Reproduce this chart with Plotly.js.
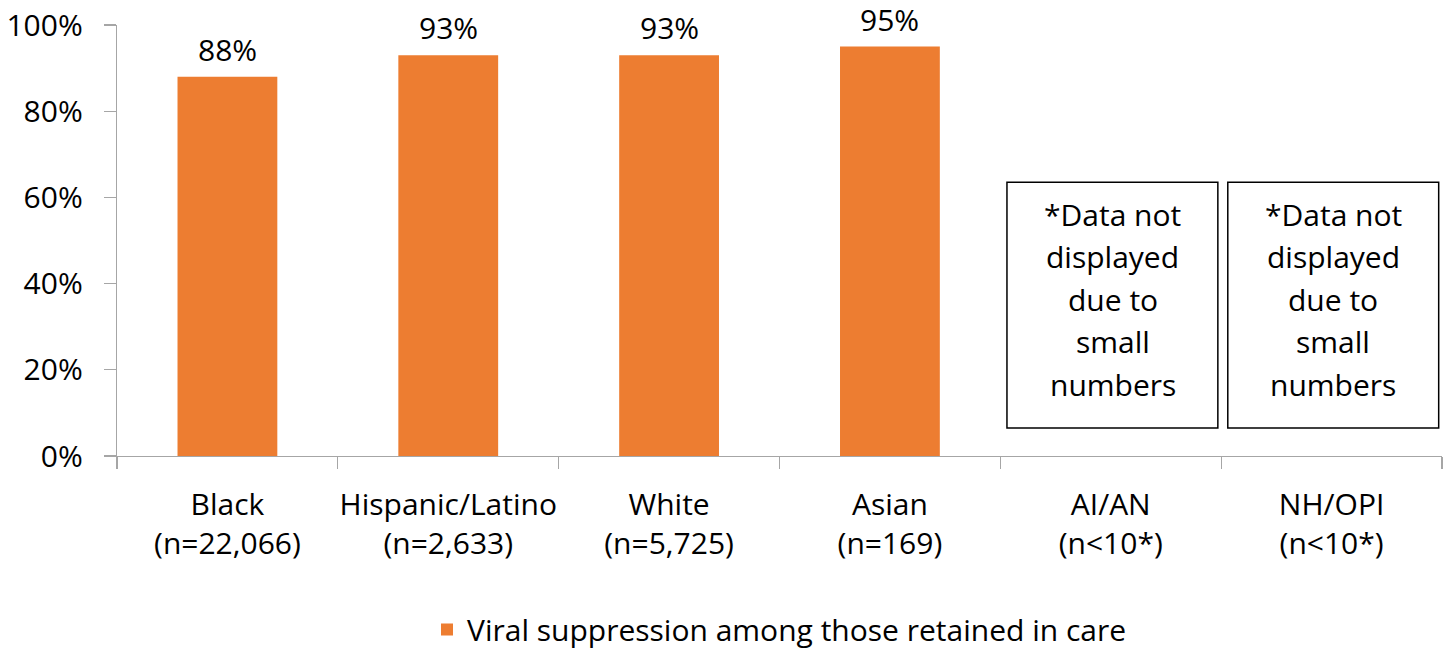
<!DOCTYPE html>
<html>
<head>
<meta charset="utf-8">
<script src="https://cdn.plot.ly/plotly-3.0.1.min.js"></script>
<style>html,body{margin:0;padding:0;background:#fff;}#chart{width:1448px;height:649px;}</style>
</head>
<body>
<div id="chart"></div>
<script>
const categories = ["Black<br>(n=22,066)", "Hispanic/Latino<br>(n=2,633)", "White<br>(n=5,725)", "Asian<br>(n=169)", "AI/AN<br>(n&lt;10*)", "NH/OPI<br>(n&lt;10*)"];
const values = [0.88, 0.93, 0.93, 0.95, null, null];
const seriesName = "Viral suppression among those retained in care";
const suppressedNoteLines = ["*Data not", "displayed", "due to", "small", "numbers"];
const suppressedIdx = [4, 5];

const FONT = "'Open Sans', 'Noto Sans', sans-serif";
const FS = 30;
const ORANGE = "#ED7D31";

const trace = {
  type: "bar",
  x: categories,
  y: values,
  name: seriesName,
  marker: {color: ORANGE},
  hoverinfo: "skip"
};

const annotations = [];
values.forEach((v, i) => {
  if (v !== null) {
    annotations.push({
      x: categories[i], y: v, xref: "x", yref: "y",
      text: Math.round(v * 100) + "%",
      showarrow: false, yanchor: "bottom", yshift: 6, borderpad: 0,
      font: {family: FONT, size: FS, color: "#000"}
    });
  }
});

const shapes = [];
suppressedIdx.forEach(i => {
  shapes.push({
    type: "rect", xref: "x", yref: "y",
    x0: i - 0.47, x1: i + 0.485, y0: 0.065, y1: 0.635,
    line: {color: "#000", width: 1.5}, fillcolor: "rgba(0,0,0,0)"
  });
  const n = suppressedNoteLines.length;
  suppressedNoteLines.forEach((line, k) => {
    annotations.push({
      x: i + 0.008, y: 0.364, xref: "x", yref: "y",
      text: line, showarrow: false,
      xanchor: "center", yanchor: "middle",
      yshift: ((n - 1) / 2 - k) * 42.5,
      font: {family: FONT, size: FS, color: "#000"}
    });
  });
});

const layout = {
  width: 1448, height: 649,
  margin: {l: 117, r: 6, t: 25, b: 193},
  paper_bgcolor: "#fff", plot_bgcolor: "#fff",
  font: {family: FONT, size: FS, color: "#000"},
  bargap: 0.548,
  showlegend: true,
  legend: {
    orientation: "h", x: 0.5, xanchor: "center", xref: "paper",
    y: 0.03, yanchor: "middle", yref: "container",
    font: {family: FONT, size: FS, color: "#000"},
    itemwidth: 30
  },
  xaxis: {
    type: "category",
    automargin: false,
    tickangle: 0,
    showline: true, linecolor: "#a6a6a6", linewidth: 1.3,
    ticks: "outside", tickson: "boundaries", ticklen: 12, tickcolor: "#a6a6a6", tickwidth: 1.3,
    showgrid: false, zeroline: false,
    tickfont: {family: FONT, size: FS, color: "#000"},
    ticklabelstandoff: 22,
    fixedrange: true
  },
  yaxis: {
    automargin: false,
    range: [0, 1],
    tickvals: [0, 0.2, 0.4, 0.6, 0.8, 1],
    tickformat: ".0%",
    showline: true, linecolor: "#a6a6a6", linewidth: 1.3,
    ticks: "outside", ticklen: 12, tickcolor: "#a6a6a6", tickwidth: 1.3,
    showgrid: false, zeroline: false,
    tickfont: {family: FONT, size: FS, color: "#000"},
    ticklabelstandoff: 15,
    fixedrange: true
  },
  shapes: shapes,
  annotations: annotations
};

Plotly.newPlot("chart", [trace], layout, {displayModeBar: false, staticPlot: true});
</script>
</body>
</html>
